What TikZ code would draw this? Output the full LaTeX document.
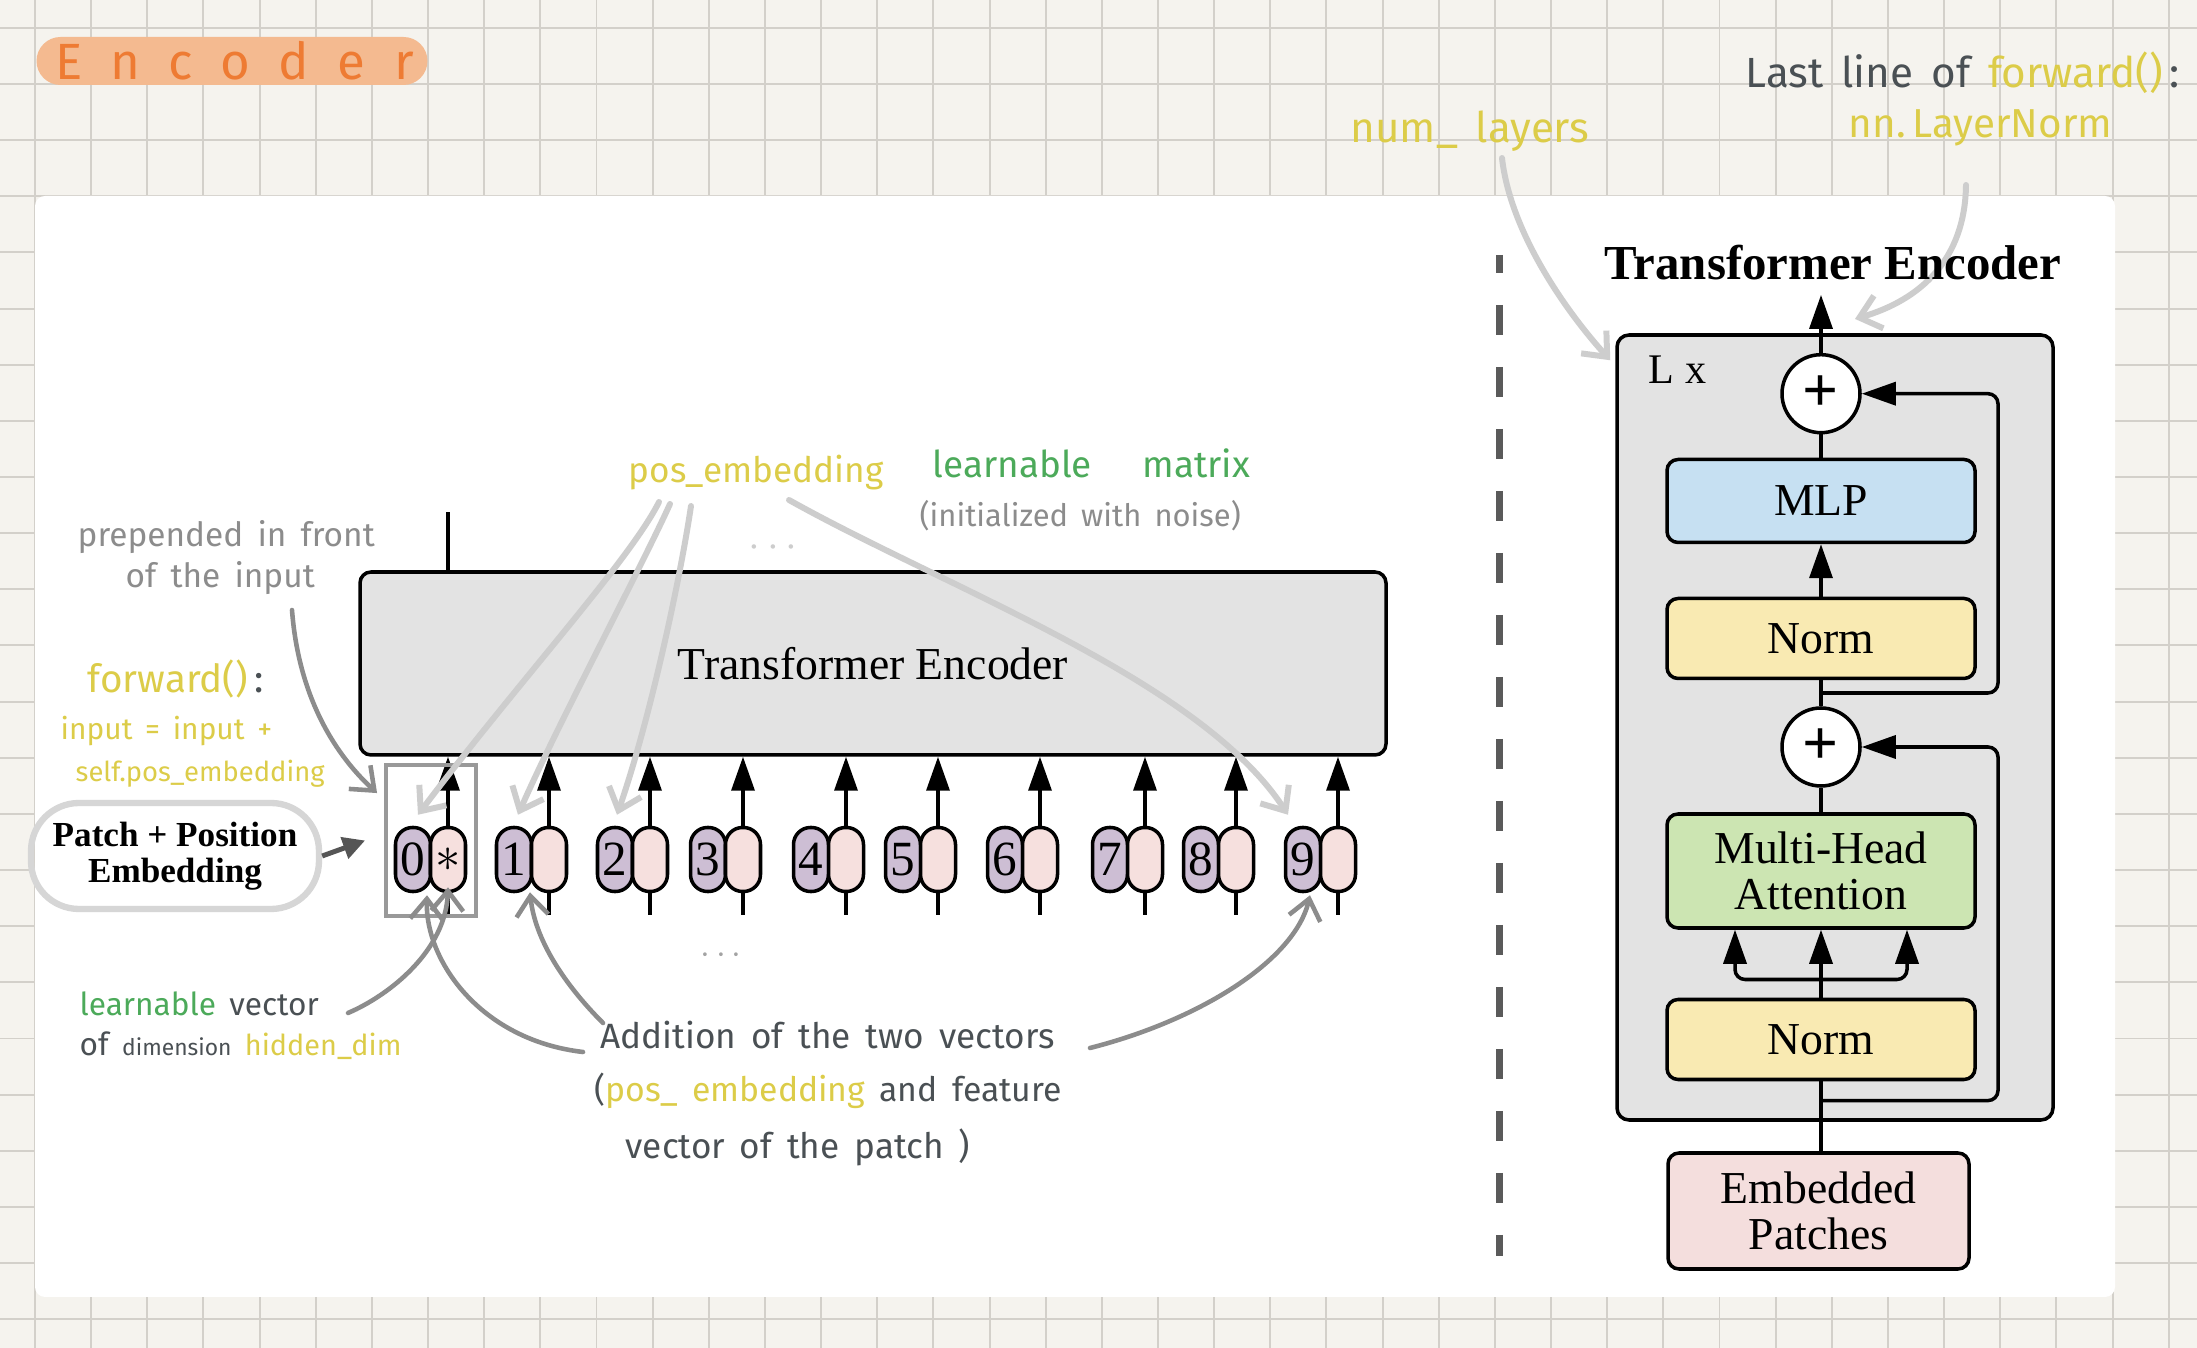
\documentclass[tikz,border=0pt]{standalone}
\usepackage{fontspec}
\setmainfont{Liberation Serif}
\newfontfamily\handfont{Fira Sans}[WordSpace=1.6]
\newfontfamily\titlefont{Fira Sans}[LetterSpace=56]
\newcommand\handsize[1]{\handfont\fontsize{#1}{#1}\selectfont}
\usetikzlibrary{arrows.meta,positioning}

\definecolor{paper}{HTML}{F5F3EE}
\definecolor{gridline}{HTML}{D3D0CA}
\definecolor{encgray}{HTML}{E3E3E3}
\definecolor{lavender}{HTML}{CDBED4}
\definecolor{blush}{HTML}{F6E0DE}
\definecolor{mlpblue}{HTML}{C6E0F2}
\definecolor{normyellow}{HTML}{F9EAB2}
\definecolor{mhagreen}{HTML}{CCE5B2}
\definecolor{patchpink}{HTML}{F4DEDD}
\definecolor{hlorange}{HTML}{F4BA90}
\definecolor{inkorange}{HTML}{EE7B33}
\definecolor{inkyellow}{HTML}{DCCC48}
\definecolor{inkgreen}{HTML}{4CAA5A}
\definecolor{inkdark}{HTML}{4A5054}
\definecolor{inkgray}{HTML}{8C8C8C}
\definecolor{inkpale}{HTML}{CDCDCD}
\definecolor{ringgray}{HTML}{D6D6D6}
\definecolor{clsgray}{HTML}{999999}
\definecolor{feedgray}{HTML}{555555}
\definecolor{sepgray}{HTML}{5A5A5A}

\begin{document}
\begin{tikzpicture}[x=0.1mm,y=0.1mm]
\tikzstyle{every node}+=[inner sep=0pt]
\tikzstyle{block}=[draw=black, line width=1pt, rounded corners=1.1mm, minimum width=30.8mm, font=\fontsize{13}{13.1}\selectfont]
\tikzstyle{pill}=[draw=black, line width=1pt, rounded corners=1.7mm, minimum width=3.5mm, minimum height=6.4mm, font=\fontsize{14}{14}\selectfont]
\tikzstyle{adder}=[circle, draw=black, line width=1pt, fill=white, minimum size=7.8mm, font=\bfseries\fontsize{18}{18}\selectfont]
\tikzstyle{flow}=[line width=1pt, -{Triangle[length=3.4mm,width=2.3mm]}]
\tikzstyle{wire}=[line width=1pt]
\tikzstyle{pale}=[inkpale, line width=1.7pt, line cap=round, -{Straight Barb[length=2mm,width=3.4mm]}]
\tikzstyle{note}=[inkgray, line width=1.3pt, line cap=round, -{Straight Barb[length=2mm,width=3.2mm]}]
\tikzstyle{hand}=[anchor=base west]
\useasboundingbox (0,0) rectangle (2197,-1348);
\fill[paper] (0,0) rectangle (2197,-1348);
\foreach \i in {0,...,38} \draw[gridline, line width=0.55pt] ({35+56.15*\i},0) -- ({35+56.15*\i},-1348);
\foreach \i in {0,...,23} \draw[gridline, line width=0.55pt] (0,{-27.8-56.15*\i}) -- (2197,{-27.8-56.15*\i});
\fill[white, rounded corners=1mm] (35,-196) rectangle (2115,-1297);
\node[fill=hlorange, rounded corners=2.4mm, minimum width=39.1mm, minimum height=4.8mm, text=inkorange, font={\titlefont\fontsize{14.5}{14.5}\selectfont}] (heading) at (232,-61) {\hspace{0.5mm}Encoder};

\node[block, fill=encgray, minimum width=102.6mm, minimum height=18.3mm] (enc) at (873,-663.5) {Transformer Encoder};
\node[pill, fill=lavender] (pos0) at (413,-859.5) {0};
\node[pill, fill=blush, right=-1pt of pos0] (vec0) {$\ast$};
\node[pill, fill=lavender] (pos1) at (514,-859.5) {1};
\node[pill, fill=blush, right=-1pt of pos1] (vec1) {};
\node[pill, fill=lavender] (pos2) at (615,-859.5) {2};
\node[pill, fill=blush, right=-1pt of pos2] (vec2) {};
\node[pill, fill=lavender] (pos3) at (708,-859.5) {3};
\node[pill, fill=blush, right=-1pt of pos3] (vec3) {};
\node[pill, fill=lavender] (pos4) at (811,-859.5) {4};
\node[pill, fill=blush, right=-1pt of pos4] (vec4) {};
\node[pill, fill=lavender] (pos5) at (903,-859.5) {5};
\node[pill, fill=blush, right=-1pt of pos5] (vec5) {};
\node[pill, fill=lavender] (pos6) at (1005,-859.5) {6};
\node[pill, fill=blush, right=-1pt of pos6] (vec6) {};
\node[pill, fill=lavender] (pos7) at (1110,-859.5) {7};
\node[pill, fill=blush, right=-1pt of pos7] (vec7) {};
\node[pill, fill=lavender] (pos8) at (1201,-859.5) {8};
\node[pill, fill=blush, right=-1pt of pos8] (vec8) {};
\node[pill, fill=lavender] (pos9) at (1303,-859.5) {9};
\node[pill, fill=blush, right=-1pt of pos9] (vec9) {};
\foreach \i in {0,...,9} {
  \draw[flow] (vec\i.north) -- (vec\i |- enc.south);
  \draw[wire] (vec\i.south) -- ++(0,-22);
}
\node[draw=clsgray, line width=1.1pt, minimum width=9mm, minimum height=15.1mm] (clsbox) at (431,-840.5) {};
\draw[wire] (vec0 |- enc.north) -- ++(0,58);
\node[draw=ringgray, line width=1.8pt, rounded corners=4.8mm, minimum width=28.8mm, minimum height=10.6mm, align=center, font=\bfseries\fontsize{10}{10.2}\selectfont] (ppe) at (175,-856) {Patch + Position\\Embedding};
\draw[feedgray, line width=1.4pt, -{Triangle[length=2.2mm,width=2.2mm]}] (ppe.east) -- ([xshift=-1.9mm]clsbox.west);
\node[text=inkpale, font=\fontsize{12}{12}\selectfont] (dotsup) at (773,-548) {$\cdots$};
\node[text=inkgray!80, font=\fontsize{10}{10}\selectfont] (dotsdown) at (721,-956) {$\cdots$};

\draw[sepgray, line width=2pt, dash pattern=on 3mm off 3.2mm, dash phase=1.2mm] (1499,-255) -- (1499,-1256);

\node[draw=black, line width=1pt, rounded corners=1.2mm, fill=encgray, minimum width=43.6mm, minimum height=78.5mm] (stack) at (1835,-727.5) {};
\node[anchor=base west, font=\fontsize{12}{12}\selectfont] (reps) at (1648,-384) {L x};
\node[adder] (add2) at (1821,-393.7) {+};
\node[block, fill=mlpblue, minimum height=8.3mm] (mlp) at (1821,-501) {MLP};
\node[block, fill=normyellow, minimum height=8mm] (norm2) at (1821,-638.5) {Norm};
\node[adder] (add1) at (1821,-747) {+};
\node[block, fill=mhagreen, minimum height=11.4mm, align=center] (mha) at (1821,-871) {Multi-Head\\Attention};
\node[block, fill=normyellow, minimum height=8mm] (norm1) at (1821,-1039.5) {Norm};
\node[block, fill=patchpink, minimum width=30.1mm, minimum height=11.6mm, align=center] (patches) at (1818.5,-1211) {Embedded\\Patches};
\coordinate (skip) at (1998,0);
\coordinate (split1) at (1821,-1100.6);
\coordinate (split2) at (1821,-693);
\coordinate (fork) at (1821,-979.5);
\draw[wire] (norm1.south) -- (norm1.south |- patches.north);
\draw[flow, rounded corners=1mm] (split1) -| (skip |- add1) -- (add1.east);
\draw[flow] (norm1.north) -- (mha.south);
\draw[flow, rounded corners=1mm] (fork) -| ([xshift=-8.6mm]mha.south);
\draw[flow, rounded corners=1mm] (fork) -| ([xshift=8.6mm]mha.south);
\draw[wire] (mha.north) -- (add1.south);
\draw[wire] (add1.north) -- (norm2.south);
\draw[flow, rounded corners=1mm] (split2) -| (skip |- add2) -- (add2.east);
\draw[flow] (norm2.north) -- (mlp.south);
\draw[wire] (mlp.north) -- (add2.south);
\draw[flow] (add2.north) -- ++(0,58);

\node[hand, text=inkyellow, font={\handsize{12}}] (layers) at (1350,-143) {num\_ layers};
\node[hand, text=inkdark, font={\handsize{12}}] (lastline) at (1745,-88) {Last line of \textcolor{inkyellow}{forward()}\,:};
\node[hand, text=inkyellow, font={\handsize{11.5}}] (lnorm) at (1848,-138) {nn.\,LayerNorm};
\draw[pale] ([shift={(152,-15)}]layers.base west) .. controls +(8,-72) and +(-47,52) .. ([shift={(-5,-27)}]stack.north west);
\draw[pale] ([shift={(118,-47)}]lnorm.base west) .. controls +(-1,-75) and +(65,19) .. ([shift={(34,34)}]add2.north);
\node[font=\bfseries\fontsize{13.9}{14}\selectfont] (title) at (1833,-263) {Transformer Encoder};

\node[hand, text=inkyellow, font={\handsize{10}}] (posemb) at (628,-483) {pos\_embedding};
\node[hand, text=inkgreen, font={\handsize{10.5}}] (learnable) at (932,-478) {learnable\hspace{5.1mm}matrix};
\node[hand, text=inkgray, font={\handsize{8.8}}] (noise) at (919,-527) {(initialized with noise)};
\draw[pale] ([shift={(31,-19)}]posemb.base west) .. controls +(-29,-58) and +(102,135) .. ([shift={(5,11)}]pos0.north);
\draw[pale] ([shift={(42,-21)}]posemb.base west) .. controls +(-30,-66) and +(42,95) .. ([shift={(4,11)}]pos1.north);
\draw[pale] ([shift={(63,-23)}]posemb.base west) .. controls +(-11,-74) and +(33,95) .. ([shift={(2,11)}]pos2.north);
\draw[pale] ([shift={(161,-17)}]posemb.base west) .. controls +(161,-90) and +(-88,135) .. ([shift={(-15,11)}]pos9.north);

\node[hand, text=inkgray, font={\handsize{9.5}}] (prep) at (77,-547) {prepended in front};
\node[hand, text=inkgray, font={\handsize{9.5}}] (prepb) at (125,-588) {of the input};
\draw[note] ([shift={(167,-22)}]prepb.base west) .. controls +(6,-80) and +(-47,43) .. ([shift={(-7,-30)}]clsbox.north west);
\node[hand, text=inkyellow, font={\handsize{11}}] (fwd) at (87,-693) {forward()\,\textcolor{inkdark}{:}};
\node[hand, text=inkyellow, font={\handsize{8.5}}] (fwdb) at (60,-740) {input = input +};
\node[hand, text=inkyellow, font={\handsize{7.8}}] (fwdc) at (75,-782) {self.pos\_embedding};

\node[hand, text=inkdark, font={\handsize{9}}] (lvec) at (79,-1016) {\textcolor{inkgreen}{learnable} vector};
\node[hand, text=inkdark, font={\handsize{9}}] (lvecb) at (79,-1056) {of {\fontsize{6.5}{6.5}\selectfont dimension} {\fontsize{8.2}{8.2}\selectfont\textcolor{inkyellow}{hidden\_dim}}};
\draw[note] ([shift={(269,3)}]lvec.base west) .. controls +(42,18) and +(-2,-63) .. ([shift={(0,6)}]vec0.south);

\node[hand, text=inkdark, font={\handsize{10}}] (addtxt) at (600,-1049) {Addition of the two vectors};
\node[hand, text=inkdark, font={\handsize{9.6}}] (addtxtb) at (594,-1102) {(\textcolor{inkyellow}{pos\_ embedding} and feature};
\node[hand, text=inkdark, font={\handsize{10}}] (addtxtc) at (625,-1159) {vector of the patch )};
\draw[note] ([shift={(-17,-3)}]addtxt.base west) .. controls +(-103,12) and +(-2,-65) .. ([shift={(14,-2)}]pos0.south);
\draw[note] ([shift={(3,26)}]addtxt.base west) .. controls +(-38,38) and +(5,-48) .. ([shift={(16,1)}]pos1.south);
\draw[note] ([shift={(490,1)}]addtxt.base west) .. controls +(110,28) and +(-15,-65) .. ([shift={(7,-2)}]pos9.south);
\end{tikzpicture}
\end{document}
